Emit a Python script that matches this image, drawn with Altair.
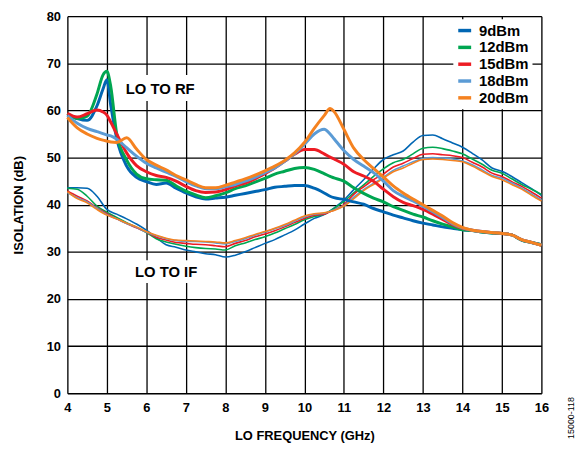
import altair as alt
import pandas as pd

SERIES = ["9dBm", "12dBm", "15dBm", "18dBm", "20dBm"]
COLORS = ["#0066B3", "#00A651", "#ED1C24", "#5B9BD5", "#F58220"]

X_TICKS = [4, 5, 6, 7, 8, 9, 10, 11, 12, 13, 14, 15, 16]
Y_TICKS = [0, 10, 20, 30, 40, 50, 60, 70, 80]

RF_FREQ = [4, 4.25, 4.5, 4.75, 4.9, 5.0, 5.1, 5.25, 5.5, 5.75, 6.0, 6.25, 6.5, 6.75,
           7.0, 7.25, 7.5, 7.75, 8.0, 8.25, 8.5, 8.75, 9.0, 9.25, 9.5, 9.75, 10.0,
           10.25, 10.5, 10.65, 10.75, 11.0, 11.25, 11.5, 11.75, 12.0, 12.25, 12.5,
           12.75, 13.0, 13.25, 13.5, 13.75, 14.0, 14.25, 14.5, 14.75, 15.0, 15.25,
           15.5, 15.75, 16.0]
RF_9 = [59.2, 58.3, 57.9, 61.0, 64.5, 66.5, 61.0, 54.0, 48.2, 45.8,
        44.9, 44.3, 44.6, 43.5, 42.5, 41.7, 41.2, 41.4, 41.6,
        42.0, 42.4, 42.8, 43.2, 43.7, 43.9, 44.1, 44.1, 43.5, 42.5,
        41.8,
        41.5, 41.1, 40.6, 40.1, 39.2, 38.5, 37.8, 37.2, 36.6, 36.1, 35.7,
        35.3, 35.0, 34.7, 34.5, 34.2, 34.0, 33.9, 33.6, 32.5, 32.0, 31.5]
RF_12 = [59.4, 58.3, 58.8, 63.5, 67.5, 68.3, 65.0, 55.0, 49.5, 46.5,
         45.5, 45.3, 45.2, 44.0, 42.9, 42.1, 41.5, 41.9, 42.5,
         43.4, 44.0, 44.8, 45.6, 46.5, 47.1, 47.7, 47.9, 47.5, 46.6,
         46.0,
         45.7, 45.0, 43.6, 42.4, 41.4, 40.6, 39.6, 38.8, 38.0, 37.4, 36.6,
         35.9, 35.3, 34.7, 34.5, 34.2, 34.0, 33.9, 33.6, 32.5, 32.0, 31.5]
RF_15 = [59.4, 58.6, 59.3, 60.1, 59.7, 59.0, 57.5, 55.0, 51.0, 48.3,
         47.0, 46.2, 45.8, 45.0, 43.9, 43.0, 42.6, 42.7, 43.2,
         44.0, 44.6, 45.5, 46.6, 47.8, 49.2, 50.7, 51.7, 51.7, 50.8,
         50.1,
         49.7, 48.6, 47.0, 46.1, 45.0, 43.3, 41.7, 40.5, 39.8, 39.0, 38.0,
         36.9, 35.8, 35.0, 34.6, 34.3, 34.1, 33.9, 33.6, 32.6, 32.0, 31.4]
RF_18 = [58.9, 57.3, 56.2, 55.5, 55.1, 54.8, 54.6, 53.9, 52.1, 50.3,
         48.8, 47.8, 46.9, 46.0, 44.9, 44.0, 43.4, 43.4, 43.8,
         44.3, 45.0, 45.8, 46.8, 47.8, 49.2, 50.8, 52.8, 55.0, 56.0,
         55.0,
         54.0, 51.5, 49.6, 48.2, 46.8, 45.0, 43.0, 41.8, 40.8, 39.7, 38.5,
         37.3, 36.0, 35.1, 34.6, 34.3, 34.1, 33.9, 33.6, 32.6, 32.0, 31.4]
RF_20 = [58.5, 56.3, 55.0, 54.1, 53.7, 53.5, 53.3, 53.2, 54.2, 51.8,
         49.6, 48.4, 47.4, 46.2, 45.3, 44.3, 43.6, 43.6, 44.1,
         44.8, 45.5, 46.3, 47.2, 48.2, 49.4, 51.0, 53.2, 56.2, 58.9,
         60.4,
         59.8, 56.0, 52.0, 49.6, 47.7, 45.9, 44.0, 42.5, 41.2, 40.0, 38.8,
         37.6, 36.2, 35.2, 34.6, 34.3, 34.1, 33.9, 33.6, 32.6, 32.0, 31.4]

IF_FREQ = [4, 4.25, 4.5, 4.75, 5, 5.25, 5.5, 5.75, 6, 6.25, 6.5, 6.75, 7, 7.25,
           7.5, 7.75, 8, 8.25, 8.5, 8.75, 9, 9.25, 9.5, 9.75, 10, 10.25, 10.5,
           10.75, 11, 11.25, 11.5, 11.75, 12, 12.25, 12.5, 12.75, 13, 13.25,
           13.5, 13.75, 14, 14.25, 14.5, 14.75, 15, 15.25, 15.5, 15.75, 16]
IF_9 = [43.6, 43.6, 43.5, 41.8, 39.0, 38.0, 37.0, 35.9, 34.6,
        33.0, 31.5, 31.0, 30.4, 30.0, 29.6, 29.4, 28.9,
        29.3, 30.0, 30.9, 31.8, 32.6, 33.6, 34.6, 35.9,
        37.1, 37.9, 39.3, 41.0, 43.2, 45.3, 47.6, 49.6,
        50.6, 51.4, 53.3, 54.7, 54.8, 54.0, 53.1, 52.2,
        50.9, 49.5, 47.8, 47.1, 46.0, 44.7, 43.4, 42.0]
IF_12 = [43.5, 43.3, 41.8, 39.7, 38.4, 37.3, 36.2, 35.2, 34.1,
         32.8, 32.1, 31.6, 31.2, 30.9, 30.7, 30.6, 30.4,
         31.3, 31.9, 32.6, 33.2, 34.0, 34.9, 35.8, 36.8,
         37.5, 38.0, 39.2, 40.7, 42.5, 44.2, 46.0, 47.6,
         48.9, 49.6, 50.8, 52.0, 52.2, 51.9, 51.4, 50.8,
         49.7, 48.6, 47.3, 46.7, 45.5, 44.3, 43.3, 42.2]
IF_15 = [42.9, 41.8, 40.8, 39.3, 38.1, 37.0, 36.0, 35.1, 34.2,
         33.1, 32.5, 32.0, 31.8, 31.6, 31.5, 31.3, 31.1,
         31.8, 32.4, 33.2, 33.8, 34.5, 35.3, 36.2, 37.1,
         37.8, 38.0, 38.9, 40.0, 42.2, 43.8, 45.3, 46.5,
         48.0, 48.8, 49.8, 50.7, 50.8, 50.6, 50.4, 50.0,
         49.0, 48.0, 46.7, 46.0, 44.9, 43.9, 42.7, 41.4]
IF_18 = [42.6, 41.5, 40.6, 39.2, 37.9, 37.0, 36.0, 35.2, 34.2,
         33.4, 32.8, 32.4, 32.2, 32.2, 32.1, 31.9, 31.7,
         32.2, 32.8, 33.5, 34.2, 34.9, 35.6, 36.5, 37.4,
         38.0, 38.2, 38.9, 39.8, 41.6, 43.2, 44.5, 45.8,
         47.3, 48.2, 49.1, 49.8, 50.0, 49.9, 49.7, 49.3,
         48.5, 47.4, 46.2, 45.6, 44.6, 43.5, 42.3, 41.0]
IF_20 = [42.8, 41.3, 40.4, 39.0, 37.8, 37.0, 36.1, 35.3, 34.3,
         33.5, 32.9, 32.5, 32.4, 32.3, 32.2, 32.1, 31.9,
         32.4, 33.0, 33.7, 34.3, 35.0, 35.8, 36.7, 37.6,
         38.1, 38.3, 38.8, 39.7, 41.3, 43.0, 44.3, 45.6,
         47.0, 47.8, 48.8, 49.6, 49.7, 49.6, 49.4, 49.1,
         48.2, 47.1, 46.0, 45.3, 44.3, 43.3, 42.0, 40.8]

ANNOT_TEXT = ["LO TO RF", "LO TO IF"]
ANNOT_X = [6.35, 6.5]
ANNOT_Y = [64.6, 25.8]
BOX_X = [5.35, 5.55]
BOX_X2 = [7.35, 7.45]
BOX_Y = [62.0, 23.4]
BOX_Y2 = [67.5, 28.2]

NOTE = "15000-118"
FONT = "Liberation Sans"


def long_df(freq, series_lists):
    rows = []
    for name, vals in zip(SERIES, series_lists):
        for f, v in zip(freq, vals):
            rows.append({"freq": f, "iso": v, "series": name})
    return pd.DataFrame(rows)


rf_df = long_df(RF_FREQ, [RF_9, RF_12, RF_15, RF_18, RF_20])
if_df = long_df(IF_FREQ, [IF_9, IF_12, IF_15, IF_18, IF_20])
annot_df = pd.DataFrame({"text": ANNOT_TEXT, "x": ANNOT_X, "y": ANNOT_Y,
                         "bx": BOX_X, "bx2": BOX_X2, "by": BOX_Y, "by2": BOX_Y2})
note_df = pd.DataFrame({"text": [NOTE]})

xscale = alt.Scale(domain=[4, 16], nice=False, zero=False)
yscale = alt.Scale(domain=[0, 80], nice=False)
cscale = alt.Scale(domain=SERIES, range=COLORS)

x_axis = alt.Axis(values=X_TICKS, title="LO FREQUENCY (GHz)", grid=True,
                  gridColor="black", gridWidth=1.3, gridOpacity=1, ticks=False,
                  domain=False, labelFont=FONT, labelFontWeight="bold",
                  labelFontSize=13, labelColor="black", labelPadding=8,
                  labelOverlap=False, labelFlush=False,
                  titleFont=FONT, titleFontSize=13, titleFontWeight="bold",
                  titleColor="black", titlePadding=16)
y_axis = alt.Axis(values=Y_TICKS, title="ISOLATION (dB)", grid=True,
                  gridColor="black", gridWidth=1.3, gridOpacity=1, ticks=False,
                  domain=False, labelFont=FONT, labelFontWeight="bold",
                  labelFontSize=13, labelColor="black", labelPadding=7,
                  labelOverlap=False, labelFlush=False,
                  titleFont=FONT, titleFontSize=13, titleFontWeight="bold",
                  titleColor="black", titlePadding=21)

legend = alt.Legend(title=None, orient="none", legendX=390, legendY=3,
                    fillColor="white", padding=3, symbolType="stroke",
                    symbolStrokeWidth=3.5, symbolSize=170, labelFont=FONT,
                    labelFontSize=15, labelFontWeight="bold", labelColor="black",
                    rowPadding=0, labelOffset=6)

color = alt.Color("series:N", scale=cscale, sort=SERIES, legend=legend)

boxes = alt.Chart(annot_df).mark_rect(color="white").encode(
    x=alt.X("bx:Q", scale=xscale, axis=x_axis),
    x2="bx2",
    y=alt.Y("by:Q", scale=yscale, axis=y_axis),
    y2="by2",
)

iff = alt.Chart(if_df).mark_line(strokeWidth=1.6, interpolate="monotone").encode(
    x=alt.X("freq:Q", scale=xscale, axis=x_axis),
    y=alt.Y("iso:Q", scale=yscale, axis=y_axis),
    color=color,
    order=alt.Order("freq:Q"),
)

rf = alt.Chart(rf_df).mark_line(strokeWidth=3, interpolate="monotone").encode(
    x=alt.X("freq:Q", scale=xscale, axis=x_axis),
    y=alt.Y("iso:Q", scale=yscale, axis=y_axis),
    color=color,
    order=alt.Order("freq:Q"),
)

labels = alt.Chart(annot_df).mark_text(font=FONT, fontSize=15, fontWeight="bold",
                                       color="black").encode(
    x=alt.X("x:Q", scale=xscale, axis=x_axis),
    y=alt.Y("y:Q", scale=yscale, axis=y_axis),
    text="text:N",
)

note = alt.Chart(note_df).mark_text(font=FONT, fontSize=9, color="black",
                                    angle=270).encode(
    x=alt.value(509), y=alt.value(406), text="text:N"
)

chart = alt.layer(boxes, iff, rf, labels, note).properties(
    width=479, height=381,
    autosize=alt.AutoSizeParams(type="none"),
    padding={"left": 60, "top": 6, "right": 38, "bottom": 50},
).configure_view(stroke="black", strokeWidth=2).configure(background="white")

chart.save("out.html", embed_options={"renderer": "svg", "actions": False})
